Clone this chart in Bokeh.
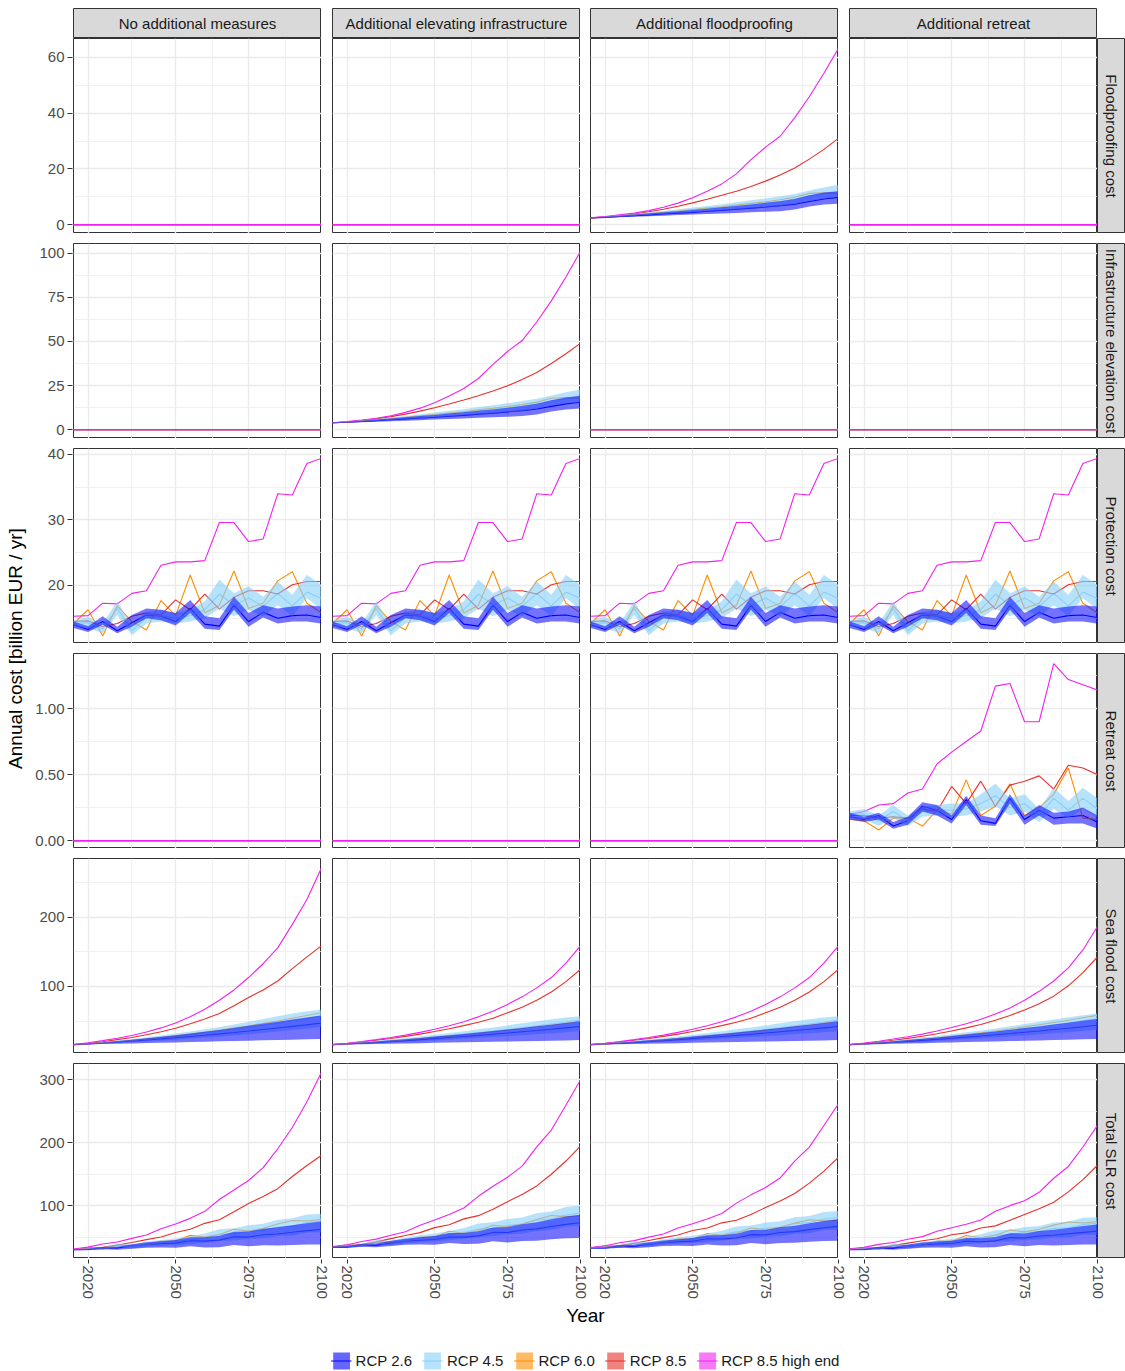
import math
from bokeh.plotting import figure
from bokeh.layouts import column, row
from bokeh.models import (ColumnDataSource, FixedTicker, Label, Legend, LegendItem,
                          PrintfTickFormatter, Range1d, Spacer)
from bokeh.embed import file_html
from bokeh.resources import INLINE

FONT = "Liberation Sans"

# ---------------- data ----------------
YEARS = [2015, 2020, 2025, 2030, 2035, 2040, 2045, 2050, 2055, 2060,
         2065, 2070, 2075, 2080, 2085, 2090, 2095, 2100]
ZERO = [0, 0, 0, 0, 0, 0, 0, 0, 0, 0, 0, 0, 0, 0, 0, 0, 0, 0]

COLS = ["No additional measures", "Additional elevating infrastructure",
        "Additional floodproofing", "Additional retreat"]
ROWS = ["Floodproofing cost", "Infrastructure elevation cost", "Protection cost",
        "Retreat cost", "Sea flood cost", "Total SLR cost"]
RCP_LABELS = ["RCP 2.6", "RCP 4.5", "RCP 6.0", "RCP 8.5", "RCP 8.5 high end"]

X_TICKS = [2020, 2050, 2075, 2100]
X_MINOR = [2035, 2062.5, 2087.5]
Y_TICKS = [[0, 20, 40, 60], [0, 25, 50, 75, 100], [20, 30, 40],
           [0, 0.5, 1.0], [100, 200], [100, 200, 300]]
Y_MINOR = [[10, 30, 50], [12.5, 37.5, 62.5, 87.5], [15, 25, 35],
           [0.25, 0.75, 1.25], [50, 150, 250], [50, 150, 250]]
Y_RANGE = [(-3.2, 66.8), (-5.0, 105.5), (11.15, 40.9), (-0.06, 1.417),
           (2.9, 285.5), (15.9, 325.4)]

# Protection cost (same in all four columns)
PROT_26 = [14.0, 13.3, 14.5, 13.1, 14.3, 15.5, 15.3, 14.5, 16.5, 14.1, 13.8, 17.0, 14.5, 15.9, 15.0, 15.4, 15.5, 15.1]
PROT_26_LO = [13.5, 12.9, 14.0, 12.7, 13.7, 15.0, 14.7, 13.9, 15.8, 13.4, 13.2, 16.3, 13.7, 15.1, 14.2, 14.5, 14.5, 14.2]
PROT_26_HI = [14.5, 13.8, 15.3, 13.7, 15.5, 16.5, 16.3, 15.8, 17.8, 15.3, 15.0, 18.3, 15.8, 17.0, 16.5, 16.8, 17.0, 16.8]
PROT_45 = [14.2, 14.3, 13.4, 16.5, 13.1, 15.1, 15.4, 15.0, 15.4, 16.3, 18.7, 17.0, 18.1, 16.8, 18.8, 16.9, 19.0, 18.0]
PROT_45_LO = [13.7, 13.5, 12.7, 15.5, 12.4, 14.2, 14.5, 14.2, 14.5, 15.0, 16.5, 15.3, 16.3, 15.3, 17.0, 15.3, 18.1, 16.3]
PROT_45_HI = [14.7, 15.2, 14.2, 17.6, 13.9, 16.0, 16.3, 15.8, 16.3, 17.6, 20.9, 18.8, 19.9, 18.3, 20.6, 18.6, 21.6, 20.1]
PROT_60 = [14.2, 16.3, 12.3, 16.9, 14.5, 13.2, 17.7, 15.4, 21.6, 15.8, 17.0, 22.2, 16.5, 17.3, 20.7, 22.1, 17.3, 15.8]
PROT_85 = [14.5, 14.6, 13.7, 14.2, 15.3, 15.8, 15.5, 17.8, 16.3, 18.7, 16.4, 18.2, 19.2, 19.2, 18.7, 20.1, 20.6, 20.6]
PROT_HE = [15.3, 15.4, 17.3, 17.2, 18.8, 19.2, 23.1, 23.6, 23.6, 23.8, 29.6, 29.6, 26.7, 27.1, 34.0, 33.8, 38.6, 39.4]

# Floodproofing cost (Additional floodproofing)
FP_26 = [2.4, 2.6, 2.9, 3.2, 3.5, 3.8, 4.1, 4.4, 4.8, 5.1, 5.5, 5.9, 6.3, 6.8, 7.3, 8.3, 9.2, 9.8]
FP_26_LO = [2.3, 2.4, 2.6, 2.8, 3.0, 3.2, 3.4, 3.6, 3.8, 4.0, 4.2, 4.4, 4.6, 4.8, 5.4, 6.5, 7.2, 7.5]
FP_26_HI = [2.5, 2.8, 3.2, 3.6, 4.0, 4.4, 4.8, 5.2, 5.7, 6.2, 6.7, 7.2, 7.8, 8.4, 9.2, 10.5, 11.5, 12.0]
FP_45 = [2.4, 2.7, 3.1, 3.5, 3.9, 4.3, 4.7, 5.2, 5.7, 6.2, 6.7, 7.2, 7.8, 8.4, 9.2, 10.3, 11.0, 11.7]
FP_45_LO = [2.3, 2.5, 2.8, 3.1, 3.4, 3.7, 4.0, 4.3, 4.7, 5.0, 5.4, 5.8, 6.2, 6.6, 7.4, 8.5, 9.3, 9.8]
FP_45_HI = [2.5, 2.9, 3.4, 3.9, 4.4, 4.9, 5.5, 6.1, 6.7, 7.3, 8.0, 8.7, 9.4, 10.2, 11.0, 12.2, 13.3, 14.3]
FP_60 = [2.4, 2.7, 3.1, 3.5, 4.0, 4.4, 4.9, 5.4, 5.9, 6.4, 7.0, 7.6, 8.2, 8.9, 9.8, 11.2, 11.4, 11.2]
FP_85 = [2.4, 2.7, 3.2, 3.8, 4.6, 5.5, 6.6, 7.8, 9.1, 10.5, 12.0, 13.7, 15.6, 17.8, 20.3, 23.5, 27.0, 31.0]
FP_HE = [2.4, 2.9, 3.5, 4.1, 5.0, 6.2, 7.7, 9.6, 12.0, 14.6, 18.2, 23.3, 27.8, 31.7, 38.4, 45.9, 54.3, 63.3]

# Infrastructure elevation cost (Additional elevating infrastructure)
INF_26 = [3.9, 4.2, 4.6, 5.1, 5.6, 6.1, 6.6, 7.0, 7.6, 8.1, 8.8, 9.4, 10.1, 10.8, 11.7, 13.2, 14.6, 15.6]
INF_26_LO = [3.7, 3.9, 4.2, 4.5, 4.8, 5.1, 5.4, 5.7, 6.0, 6.4, 6.7, 7.0, 7.3, 7.7, 8.6, 10.3, 11.5, 12.0]
INF_26_HI = [4.0, 4.5, 5.1, 5.8, 6.4, 7.0, 7.7, 8.3, 9.1, 9.9, 10.7, 11.5, 12.4, 13.4, 14.7, 16.7, 18.3, 19.2]
INF_45 = [3.9, 4.3, 4.9, 5.5, 6.2, 6.9, 7.5, 8.3, 9.1, 9.9, 10.7, 11.5, 12.4, 13.4, 14.7, 16.4, 17.5, 18.6]
INF_45_LO = [3.7, 4.0, 4.5, 4.9, 5.4, 5.9, 6.4, 6.9, 7.5, 8.0, 8.6, 9.2, 9.9, 10.5, 11.8, 13.5, 14.8, 15.6]
INF_45_HI = [4.0, 4.6, 5.4, 6.2, 7.0, 7.8, 8.8, 9.7, 10.7, 11.6, 12.8, 13.9, 15.0, 16.2, 17.5, 19.4, 21.2, 22.8]
INF_60 = [3.9, 4.3, 4.9, 5.6, 6.3, 7.0, 7.8, 8.6, 9.4, 10.2, 11.2, 12.1, 13.1, 14.2, 15.6, 17.8, 18.2, 17.9]
INF_85 = [3.9, 4.3, 5.1, 6.1, 7.4, 8.8, 10.5, 12.4, 14.5, 16.8, 19.2, 21.9, 24.9, 28.4, 32.4, 37.5, 43.0, 49.0]
INF_HE = [3.9, 4.6, 5.5, 6.5, 7.9, 9.8, 12.2, 15.3, 19.1, 23.3, 29.0, 37.0, 44.3, 50.5, 61.0, 73.0, 86.5, 101.0]

# Retreat cost (Additional retreat)
RET_26 = [0.18, 0.16, 0.19, 0.11, 0.15, 0.26, 0.23, 0.16, 0.31, 0.15, 0.13, 0.32, 0.16, 0.23, 0.17, 0.18, 0.19, 0.14]
RET_26_LO = [0.16, 0.14, 0.16, 0.09, 0.12, 0.22, 0.19, 0.13, 0.27, 0.12, 0.11, 0.28, 0.12, 0.19, 0.12, 0.13, 0.13, 0.09]
RET_26_HI = [0.21, 0.18, 0.21, 0.14, 0.18, 0.29, 0.27, 0.19, 0.34, 0.19, 0.17, 0.35, 0.19, 0.27, 0.21, 0.22, 0.25, 0.19]
RET_45 = [0.20, 0.20, 0.15, 0.22, 0.15, 0.22, 0.23, 0.23, 0.24, 0.28, 0.34, 0.25, 0.28, 0.19, 0.32, 0.23, 0.32, 0.24]
RET_45_LO = [0.17, 0.16, 0.11, 0.17, 0.11, 0.18, 0.19, 0.18, 0.19, 0.22, 0.26, 0.19, 0.22, 0.14, 0.24, 0.17, 0.24, 0.17]
RET_45_HI = [0.22, 0.24, 0.19, 0.27, 0.19, 0.26, 0.27, 0.28, 0.28, 0.35, 0.43, 0.32, 0.35, 0.24, 0.40, 0.30, 0.40, 0.32]
RET_60 = [0.16, 0.15, 0.08, 0.17, 0.17, 0.11, 0.23, 0.20, 0.46, 0.19, 0.26, 0.43, 0.19, 0.25, 0.35, 0.55, 0.17, 0.16]
RET_85 = [0.19, 0.19, 0.17, 0.18, 0.17, 0.24, 0.22, 0.41, 0.28, 0.45, 0.26, 0.42, 0.45, 0.49, 0.39, 0.57, 0.55, 0.50]
RET_HE = [0.20, 0.22, 0.27, 0.28, 0.36, 0.39, 0.58, 0.67, 0.75, 0.83, 1.17, 1.19, 0.90, 0.90, 1.34, 1.22, 1.18, 1.14]

# Sea flood cost - No additional measures
SF1_26 = [15.7, 16.8, 18.1, 19.5, 21.0, 22.5, 24.1, 25.8, 27.6, 29.4, 31.3, 33.3, 35.4, 37.6, 39.9, 42.2, 44.6, 47.0]
SF1_26_LO = [15.5, 16.0, 16.5, 17.0, 17.5, 18.0, 18.5, 19.0, 19.5, 20.0, 20.5, 21.0, 21.5, 22.0, 22.5, 23.0, 23.5, 24.0]
SF1_26_HI = [16.0, 17.5, 19.0, 21.0, 23.0, 25.0, 27.0, 29.5, 32.0, 34.5, 37.0, 40.0, 43.0, 46.0, 49.0, 52.0, 55.0, 58.0]
SF1_45 = [15.7, 17.1, 18.6, 20.2, 22.0, 23.9, 25.9, 28.0, 30.3, 32.7, 35.3, 38.0, 40.8, 43.8, 47.0, 50.3, 53.8, 57.5]
SF1_45_LO = [15.5, 16.3, 17.2, 18.2, 19.2, 20.3, 21.5, 22.8, 24.2, 25.7, 27.3, 29.0, 30.8, 32.7, 34.7, 36.8, 39.0, 41.3]
SF1_45_HI = [16.0, 17.8, 19.7, 21.8, 24.0, 26.4, 29.0, 31.8, 34.8, 38.0, 41.4, 45.0, 48.8, 52.8, 57.0, 61.0, 64.0, 66.5]
SF1_60 = [15.7, 17.0, 18.5, 20.0, 22.0, 24.0, 26.0, 28.5, 31.0, 34.0, 37.0, 40.0, 43.0, 46.5, 50.0, 54.0, 58.0, 62.0]
SF1_85 = [15.7, 17.5, 20.0, 23.0, 26.0, 30.0, 34.5, 39.5, 46.0, 53.0, 61.0, 72.0, 84.0, 95.0, 108.0, 126.0, 143.0, 159.0]
SF1_HE = [15.7, 18.5, 21.5, 25.0, 29.0, 34.0, 40.0, 47.0, 56.0, 67.0, 80.0, 95.0, 113.0, 133.0, 156.0, 190.0, 226.0, 272.0]

# Sea flood cost - Additional elevating infrastructure / Additional floodproofing
SF2_26 = [15.7, 16.7, 17.8, 19.0, 20.3, 21.6, 23.0, 24.5, 26.0, 27.6, 29.2, 30.9, 32.6, 34.4, 36.2, 38.1, 40.0, 42.0]
SF2_26_LO = [15.5, 15.9, 16.3, 16.7, 17.1, 17.5, 17.9, 18.3, 18.7, 19.1, 19.5, 19.9, 20.3, 20.7, 21.1, 21.5, 21.9, 22.3]
SF2_26_HI = [16.0, 17.3, 18.7, 20.3, 22.0, 23.7, 25.5, 27.4, 29.3, 31.3, 33.4, 35.5, 37.7, 40.0, 42.3, 44.7, 47.1, 49.6]
SF2_45 = [15.7, 17.0, 18.4, 19.9, 21.5, 23.2, 25.0, 26.9, 28.9, 31.0, 33.2, 35.5, 37.9, 40.4, 43.0, 45.7, 48.5, 51.4]
SF2_45_LO = [15.5, 16.2, 17.0, 17.9, 18.8, 19.8, 20.8, 21.9, 23.0, 24.2, 25.4, 26.7, 28.0, 29.4, 30.8, 32.3, 33.8, 35.4]
SF2_45_HI = [16.0, 17.6, 19.4, 21.3, 23.3, 25.4, 27.7, 30.1, 32.6, 35.2, 37.9, 40.7, 43.6, 46.6, 49.7, 52.5, 55.0, 57.0]
SF2_60 = [15.7, 16.9, 18.2, 19.6, 21.1, 22.7, 24.4, 26.2, 28.1, 30.1, 32.2, 34.4, 36.7, 39.1, 41.6, 44.2, 46.9, 49.7]
SF2_85 = [15.7, 17.5, 19.6, 22.0, 24.7, 27.7, 31.0, 34.7, 38.8, 43.3, 48.3, 54.0, 62.0, 70.0, 80.0, 92.0, 107.0, 125.0]
SF2_HE = [15.7, 17.8, 20.2, 23.0, 26.0, 29.5, 33.5, 38.0, 43.0, 49.0, 56.0, 64.0, 74.0, 85.0, 98.0, 113.0, 134.0, 159.0]

# Sea flood cost - Additional retreat
SF4_26 = [15.7, 16.7, 17.9, 19.2, 20.5, 21.9, 23.4, 25.0, 26.6, 28.3, 30.0, 31.8, 33.7, 35.6, 37.6, 39.6, 41.7, 43.9]
SF4_26_LO = [15.5, 15.9, 16.4, 16.9, 17.4, 17.9, 18.4, 18.9, 19.4, 19.9, 20.4, 20.9, 21.4, 21.9, 22.4, 22.9, 23.4, 23.9]
SF4_26_HI = [16.0, 17.4, 18.9, 20.6, 22.4, 24.3, 26.2, 28.2, 30.3, 32.5, 34.8, 37.2, 39.7, 42.2, 44.8, 47.5, 50.3, 53.0]
SF4_45 = [15.7, 17.0, 18.5, 20.0, 21.7, 23.5, 25.4, 27.4, 29.5, 31.7, 34.0, 36.5, 39.1, 41.8, 44.6, 47.5, 50.5, 53.6]
SF4_45_LO = [15.5, 16.2, 17.1, 18.0, 19.0, 20.0, 21.1, 22.3, 23.5, 24.8, 26.1, 27.5, 29.0, 30.5, 32.1, 33.7, 35.4, 37.2]
SF4_45_HI = [16.0, 17.7, 19.6, 21.6, 23.7, 26.0, 28.4, 30.9, 33.6, 36.4, 39.3, 42.3, 45.5, 48.8, 52.2, 55.5, 58.5, 61.0]
SF4_60 = [15.7, 16.9, 18.3, 19.8, 21.6, 23.5, 25.5, 27.8, 30.2, 32.8, 35.6, 38.5, 41.5, 44.6, 47.8, 51.2, 54.7, 58.3]
SF4_85 = [15.7, 17.4, 19.5, 22.0, 24.8, 28.0, 31.5, 35.5, 40.0, 45.0, 51.0, 58.0, 66.0, 75.0, 86.0, 101.0, 120.0, 143.0]
SF4_HE = [15.7, 18.0, 20.7, 23.8, 27.2, 31.0, 35.5, 40.5, 46.0, 52.5, 60.0, 69.0, 80.0, 93.0, 108.0, 127.0, 153.0, 187.0]

# Total SLR cost - No additional measures
TOT1_26 = [29.7, 30.1, 32.6, 32.6, 35.3, 38.0, 39.4, 40.3, 44.1, 43.5, 45.1, 50.3, 49.9, 53.5, 54.9, 57.6, 60.1, 62.1]
TOT1_26_LO = [29.0, 28.9, 30.5, 29.7, 31.2, 33.0, 33.2, 32.9, 35.3, 33.4, 33.7, 37.3, 35.2, 37.1, 36.7, 37.5, 38.0, 38.2]
TOT1_26_HI = [30.5, 31.3, 34.3, 34.7, 38.5, 41.5, 43.3, 45.3, 49.8, 49.8, 52.0, 58.3, 58.8, 63.0, 65.5, 68.8, 72.0, 74.8]
TOT1_45 = [29.9, 31.4, 32.0, 36.7, 35.1, 39.0, 41.3, 43.0, 45.7, 49.0, 54.0, 55.0, 58.9, 60.6, 65.8, 67.2, 72.8, 75.5]
TOT1_45_LO = [29.2, 29.8, 29.9, 33.7, 31.6, 34.5, 36.0, 37.0, 38.7, 40.7, 43.8, 44.3, 47.1, 48.0, 51.7, 52.1, 57.1, 57.6]
TOT1_45_HI = [30.7, 33.0, 33.9, 39.4, 37.9, 42.4, 45.3, 47.6, 51.1, 55.6, 62.3, 63.8, 68.7, 71.1, 77.6, 79.6, 85.6, 86.6]
TOT1_60 = [29.9, 33.3, 30.8, 36.9, 36.5, 37.2, 43.7, 43.9, 52.6, 49.8, 54.0, 62.2, 59.5, 63.8, 70.7, 76.1, 75.3, 77.8]
TOT1_85 = [30.2, 32.1, 33.7, 37.2, 41.3, 45.8, 50.0, 57.3, 62.3, 71.7, 77.4, 90.2, 103.2, 114.2, 126.7, 146.1, 163.6, 179.6]
TOT1_HE = [31.0, 33.9, 38.8, 42.2, 47.8, 53.2, 63.1, 70.6, 79.6, 90.8, 109.6, 124.6, 139.7, 160.1, 190.0, 223.8, 264.6, 311.4]

# Total SLR cost - Additional elevating infrastructure
TOT2_26 = [33.6, 34.2, 36.9, 37.2, 40.2, 43.2, 44.9, 46.0, 50.1, 49.8, 51.8, 57.3, 57.2, 61.1, 62.9, 66.7, 70.1, 72.7]
TOT2_26_LO = [32.7, 32.7, 34.5, 33.9, 35.6, 37.6, 38.0, 37.9, 40.5, 38.9, 39.4, 43.2, 41.3, 43.5, 43.9, 46.3, 47.9, 48.5]
TOT2_26_HI = [34.5, 35.6, 39.1, 39.8, 43.9, 47.2, 49.5, 51.5, 56.2, 56.5, 59.1, 65.3, 65.9, 70.4, 73.5, 78.2, 82.4, 85.6]
TOT2_45 = [33.8, 35.6, 36.7, 41.9, 40.8, 45.2, 47.9, 50.2, 53.4, 57.2, 62.6, 64.0, 68.4, 70.6, 76.5, 79.0, 85.0, 88.0]
TOT2_45_LO = [32.9, 33.7, 34.2, 38.3, 36.6, 39.9, 41.7, 43.0, 45.0, 47.2, 50.5, 51.2, 54.2, 55.2, 59.6, 61.1, 66.7, 67.3]
TOT2_45_HI = [34.7, 37.4, 39.0, 45.1, 44.2, 49.2, 52.8, 55.6, 59.6, 64.4, 71.6, 73.4, 78.5, 81.1, 87.8, 90.5, 97.8, 99.9]
TOT2_60 = [33.8, 37.5, 35.4, 42.1, 41.9, 42.9, 49.9, 50.2, 59.1, 56.1, 60.4, 68.7, 66.3, 70.6, 77.9, 84.1, 82.4, 83.4]
TOT2_85 = [34.1, 36.4, 38.4, 42.3, 47.4, 52.3, 57.0, 64.9, 69.6, 78.8, 83.9, 94.1, 106.1, 117.6, 131.1, 149.6, 170.6, 194.6]
TOT2_HE = [34.9, 37.8, 43.0, 46.7, 52.7, 58.5, 68.8, 76.9, 85.7, 96.1, 114.6, 130.6, 145.0, 162.6, 193.0, 219.8, 259.1, 299.4]

# Total SLR cost - Additional floodproofing
TOT3_26 = [32.1, 32.6, 35.2, 35.3, 38.1, 40.9, 42.4, 43.4, 47.3, 46.8, 48.5, 53.8, 53.4, 57.1, 58.5, 61.8, 64.7, 66.9]
TOT3_26_LO = [31.3, 31.2, 32.9, 32.2, 33.8, 35.7, 36.0, 35.8, 38.3, 36.5, 36.9, 40.6, 38.6, 40.6, 40.7, 42.5, 43.6, 44.0]
TOT3_26_HI = [33.0, 33.9, 37.2, 37.6, 41.5, 44.6, 46.6, 48.4, 52.8, 52.8, 55.1, 61.0, 61.3, 65.4, 68.0, 72.0, 75.6, 78.4]
TOT3_45 = [32.3, 34.0, 34.9, 39.9, 38.5, 42.6, 45.1, 47.1, 50.0, 53.5, 58.6, 59.7, 63.8, 65.6, 71.0, 72.9, 78.5, 81.1]
TOT3_45_LO = [31.5, 32.2, 32.5, 36.5, 34.6, 37.7, 39.3, 40.4, 42.2, 44.2, 47.3, 47.8, 50.5, 51.3, 55.2, 56.1, 61.2, 61.5]
TOT3_45_HI = [33.2, 35.7, 37.0, 42.8, 41.6, 46.3, 49.5, 52.0, 55.6, 60.1, 66.8, 68.2, 72.9, 75.1, 81.3, 83.3, 89.9, 91.4]
TOT3_60 = [32.3, 35.9, 33.6, 40.0, 39.6, 40.3, 47.0, 47.0, 55.6, 52.3, 56.2, 64.2, 61.4, 65.3, 72.1, 77.5, 75.6, 76.7]
TOT3_85 = [32.6, 34.8, 36.5, 40.0, 44.6, 49.0, 53.1, 60.3, 64.2, 72.5, 76.7, 85.9, 96.8, 107.0, 119.0, 135.6, 154.6, 176.6]
TOT3_HE = [33.4, 36.1, 41.0, 44.3, 49.8, 54.9, 64.3, 71.2, 78.6, 87.4, 103.8, 116.9, 128.5, 143.8, 170.4, 192.7, 226.9, 261.7]

# Total SLR cost - Additional retreat
TOT4_26 = [29.9, 30.2, 32.6, 32.4, 35.0, 37.7, 38.9, 39.7, 43.4, 42.6, 43.9, 49.1, 48.4, 51.7, 52.8, 55.2, 57.4, 59.1]
TOT4_26_LO = [29.2, 28.9, 30.6, 29.7, 31.2, 33.1, 33.3, 32.9, 35.5, 33.4, 33.7, 37.5, 35.2, 37.2, 36.7, 37.5, 38.0, 38.2]
TOT4_26_HI = [30.7, 31.4, 34.4, 34.4, 38.1, 41.1, 42.8, 44.2, 48.4, 48.0, 50.0, 55.9, 55.7, 59.5, 61.5, 64.5, 67.6, 70.0]
TOT4_45 = [30.1, 31.5, 32.1, 36.7, 35.0, 38.8, 41.0, 42.6, 45.1, 48.3, 53.0, 53.8, 57.5, 58.8, 63.7, 64.6, 69.8, 71.8]
TOT4_45_LO = [29.4, 29.9, 29.9, 33.7, 31.5, 34.4, 35.8, 36.7, 38.2, 40.0, 42.9, 43.0, 45.5, 45.9, 49.3, 49.2, 53.7, 53.7]
TOT4_45_HI = [30.9, 33.1, 34.0, 39.5, 37.8, 42.3, 45.0, 47.0, 50.2, 54.4, 60.6, 61.4, 65.8, 67.3, 73.2, 74.4, 80.5, 81.4]
TOT4_60 = [30.1, 33.4, 30.7, 36.9, 36.3, 36.8, 43.4, 43.4, 52.3, 48.8, 52.9, 61.1, 58.2, 62.2, 68.9, 73.9, 72.2, 74.3]
TOT4_85 = [30.4, 32.2, 33.4, 36.4, 40.3, 44.0, 47.2, 53.7, 56.6, 64.2, 67.7, 76.6, 85.7, 94.7, 105.1, 121.7, 141.2, 164.1]
TOT4_HE = [31.2, 33.6, 38.3, 41.3, 46.4, 50.6, 59.2, 64.8, 70.4, 77.1, 90.8, 99.8, 107.6, 121.0, 143.3, 162.0, 192.8, 227.5]

# ---------------- styles ----------------
C26, C45, C60, C85, CHE = "#0000FF", "#87CEFA", "#FF8C00", "#E8302A", "#F020F0"
LW = 1.1
GRID = "#EBEBEB"
BORDER = "#333333"
STRIP = "#D9D9D9"
NAN = float("nan")


def pack(l26, lo26, hi26, l45, lo45, hi45, l60, l85, lhe):
    return dict(l26=l26, lo26=lo26, hi26=hi26, l45=l45, lo45=lo45, hi45=hi45,
                l60=l60, l85=l85, lhe=lhe)


ZP = pack(ZERO, ZERO, ZERO, ZERO, ZERO, ZERO, ZERO, ZERO, ZERO)
PROT = pack(PROT_26, PROT_26_LO, PROT_26_HI, PROT_45, PROT_45_LO, PROT_45_HI, PROT_60, PROT_85, PROT_HE)
FP = pack(FP_26, FP_26_LO, FP_26_HI, FP_45, FP_45_LO, FP_45_HI, FP_60, FP_85, FP_HE)
INF = pack(INF_26, INF_26_LO, INF_26_HI, INF_45, INF_45_LO, INF_45_HI, INF_60, INF_85, INF_HE)
RET = pack(RET_26, RET_26_LO, RET_26_HI, RET_45, RET_45_LO, RET_45_HI, RET_60, RET_85, RET_HE)
SF1 = pack(SF1_26, SF1_26_LO, SF1_26_HI, SF1_45, SF1_45_LO, SF1_45_HI, SF1_60, SF1_85, SF1_HE)
SF2 = pack(SF2_26, SF2_26_LO, SF2_26_HI, SF2_45, SF2_45_LO, SF2_45_HI, SF2_60, SF2_85, SF2_HE)
SF4 = pack(SF4_26, SF4_26_LO, SF4_26_HI, SF4_45, SF4_45_LO, SF4_45_HI, SF4_60, SF4_85, SF4_HE)
TOT1 = pack(TOT1_26, TOT1_26_LO, TOT1_26_HI, TOT1_45, TOT1_45_LO, TOT1_45_HI, TOT1_60, TOT1_85, TOT1_HE)
TOT2 = pack(TOT2_26, TOT2_26_LO, TOT2_26_HI, TOT2_45, TOT2_45_LO, TOT2_45_HI, TOT2_60, TOT2_85, TOT2_HE)
TOT3 = pack(TOT3_26, TOT3_26_LO, TOT3_26_HI, TOT3_45, TOT3_45_LO, TOT3_45_HI, TOT3_60, TOT3_85, TOT3_HE)
TOT4 = pack(TOT4_26, TOT4_26_LO, TOT4_26_HI, TOT4_45, TOT4_45_LO, TOT4_45_HI, TOT4_60, TOT4_85, TOT4_HE)

PANELS = [
    [ZP, ZP, FP, ZP],
    [ZP, INF, ZP, ZP],
    [PROT, PROT, PROT, PROT],
    [ZP, ZP, ZP, RET],
    [SF1, SF2, SF2, SF4],
    [TOT1, TOT2, TOT3, TOT4],
]

FW, FH = 248, 195
GAPS = [11, 10, 11]
ROW_GAP = 10


def base_fig(w, h, xr, yr, **kw):
    p = figure(width=w, height=h, x_range=xr, y_range=yr,
               toolbar_location=None, output_backend="svg", min_border=0,
               background_fill_color="white", border_fill_color="white", **kw)
    p.min_border_left = 0
    p.min_border_right = 0
    p.min_border_top = 0
    p.min_border_bottom = 0
    return p


def style_axis(ax):
    ax.axis_line_color = None
    ax.major_tick_line_color = BORDER
    ax.major_tick_line_width = 1
    ax.major_tick_out = 5
    ax.major_tick_in = 0
    ax.minor_tick_line_color = None
    ax.major_label_text_font = FONT
    ax.major_label_text_font_size = "15px"
    ax.major_label_text_color = "#4D4D4D"
    ax.major_label_standoff = 3


def make_panel(r, c):
    p = base_fig(FW, FH, Range1d(2015, 2100), Range1d(*Y_RANGE[r]),
                 x_axis_location=None, y_axis_location=None,
                 outline_line_color=BORDER, outline_line_width=1)
    p.xgrid.ticker = FixedTicker(ticks=X_TICKS, minor_ticks=X_MINOR)
    p.ygrid.ticker = FixedTicker(ticks=Y_TICKS[r], minor_ticks=Y_MINOR[r])
    p.grid.grid_line_color = GRID
    p.grid.grid_line_width = 1.4
    p.grid.minor_grid_line_color = GRID
    p.grid.minor_grid_line_width = 0.7

    d = PANELS[r][c]
    src = ColumnDataSource(dict(x=YEARS, **d))
    p.line("x", "l26", source=src, line_color=C26, line_width=LW)
    p.line("x", "l45", source=src, line_color=C45, line_width=LW)
    p.line("x", "l60", source=src, line_color=C60, line_width=LW)
    p.line("x", "l85", source=src, line_color=C85, line_width=LW)
    p.line("x", "lhe", source=src, line_color=CHE, line_width=LW)
    p.varea("x", "lo45", "hi45", source=src, fill_color=C45, fill_alpha=0.6)
    p.varea("x", "lo26", "hi26", source=src, fill_color=C26, fill_alpha=0.55)
    return p


def make_yaxis(r):
    top = 0 if r == 0 else ROW_GAP
    p = base_fig(43, FH + top, Range1d(0, 1), Range1d(*Y_RANGE[r]),
                 x_axis_location=None, y_axis_location="left", outline_line_color=None)
    p.min_border_left = 42
    p.min_border_top = top
    p.grid.visible = False
    ax = p.yaxis[0]
    ax.ticker = FixedTicker(ticks=Y_TICKS[r])
    if r == 3:
        ax.formatter = PrintfTickFormatter(format="%.2f")
    style_axis(ax)
    return p


def make_xaxis():
    p = base_fig(FW + 8, 44, Range1d(2015, 2100), Range1d(0, 1),
                 x_axis_location="below", y_axis_location=None, outline_line_color=None)
    p.min_border_right = 8
    p.min_border_bottom = 43
    p.grid.visible = False
    ax = p.xaxis[0]
    ax.ticker = FixedTicker(ticks=X_TICKS)
    style_axis(ax)
    ax.major_tick_out = 4
    ax.major_label_orientation = -math.pi / 2
    ax.major_label_standoff = 2
    return p


def strip_fig(text, w, h, vertical):
    s = base_fig(w, h, Range1d(0, 1), Range1d(0, 1),
                 x_axis_location=None, y_axis_location=None,
                 outline_line_color=BORDER, outline_line_width=1)
    s.background_fill_color = STRIP
    s.border_fill_color = STRIP
    s.grid.visible = False
    s.add_layout(Label(x=0.5, y=0.5, text=text, text_align="center", text_baseline="middle",
                       angle=(-math.pi / 2 if vertical else 0),
                       text_font=FONT, text_font_size="15px", text_color="#1A1A1A"))
    return s


# top strips
top_items = [Spacer(width=73, height=30)]
for c, name in enumerate(COLS):
    top_items.append(strip_fig(name, FW, 30, False))
    if c < 3:
        top_items.append(Spacer(width=GAPS[c], height=30))
top_row = row(*top_items)

# panel rows
rows_items = []
for r in range(6):
    items = []
    for c in range(4):
        items.append(make_panel(r, c))
        if c < 3:
            items.append(Spacer(width=GAPS[c], height=FH))
    items.append(strip_fig(ROWS[r], 28, FH, True))
    rows_items.append(row(*items))
    if r < 5:
        rows_items.append(Spacer(width=10, height=ROW_GAP))
panels_col = column(*rows_items)

yaxis_col = column(*[make_yaxis(r) for r in range(6)])

# y-axis title
TOTAL_H = 6 * FH + 5 * ROW_GAP
yl = base_fig(30, TOTAL_H, Range1d(0, 1), Range1d(0, 1),
              x_axis_location=None, y_axis_location=None, outline_line_color=None)
yl.grid.visible = False
yl.add_layout(Label(x=0.5, y=0.5, text="Annual cost [billion EUR / yr]", text_align="center",
                    text_baseline="middle", angle=math.pi / 2, text_font=FONT,
                    text_font_size="19px", text_color="black"))

middle = row(yl, yaxis_col, panels_col)

# x axes under the bottom row
xa_items = [Spacer(width=73, height=44)]
for c in range(4):
    xa_items.append(make_xaxis())
    if c < 3:
        xa_items.append(Spacer(width=GAPS[c] - 8, height=44))
xaxis_row = row(*xa_items)

# bottom: x title and legend
bf = base_fig(1125, 69, Range1d(0, 1), Range1d(0, 1),
              x_axis_location=None, y_axis_location=None, outline_line_color=None)
bf.min_border_left = 73
bf.min_border_right = 28
bf.grid.visible = False
bf.title.text = "Year"
bf.title.align = "center"
bf.title.text_font = FONT
bf.title.text_font_size = "19px"
bf.title.text_font_style = "normal"
bf.title.text_color = "black"
bf.title.standoff = 0
bf.title.offset = 0

colors = [C26, C45, C60, C85, CHE]
items = []
for lab, col in zip(RCP_LABELS, colors):
    rq = bf.quad(left=[NAN], right=[NAN], top=[NAN], bottom=[NAN],
                 fill_color=col, fill_alpha=0.6, line_color=None)
    rl = bf.line(x=[NAN, NAN], y=[NAN, NAN], line_color=col, line_width=LW)
    items.append(LegendItem(label=lab, renderers=[rq, rl]))
leg = Legend(items=items, orientation="horizontal", location="bottom_center",
             glyph_width=21, glyph_height=21, label_height=21, label_standoff=4, spacing=10,
             padding=0, margin=0, border_line_color=None, background_fill_alpha=0,
             label_text_font=FONT, label_text_font_size="15px", label_text_color="#1A1A1A")
bf.add_layout(leg, "center")

layout = column(Spacer(width=1125, height=8), top_row, middle, xaxis_row, bf)

open("out.html", "w").write(file_html(layout, INLINE))
